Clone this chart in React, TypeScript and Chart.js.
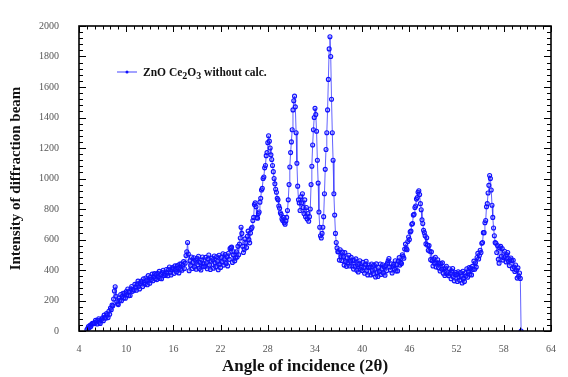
import React, { useEffect, useRef } from 'react';
import { Chart, registerables } from 'chart.js';

Chart.register(...registerables);

// Diffraction scan: first angle and angular step (degrees 2θ)
const angleStart = 5.0;
const angleStep = 0.1;

// Intensity, one value per 0.1° from 5.0° to 60.2°
const intensity: number[] = [
  8, 16, 30, 22, 38, 30, 44, 50, 48, 52, // 5.0-5.9
  50, 70, 60, 46, 70, 80, 58, 50, 70, 78, // 6.0
  86, 68, 104, 90, 84, 114, 106, 88, 130, 110, // 7.0
  150, 140, 170, 165, 210, 262, 290, 228, 190, 178, // 8.0
  173, 216, 202, 239, 198, 226, 248, 216, 247, 215, // 9.0
  258, 238, 275, 231, 259, 233, 276, 292, 260, 273, // 10.0
  267, 306, 288, 267, 309, 327, 291, 276, 312, 327, // 11.0
  321, 291, 342, 318, 306, 348, 333, 303, 363, 330, // 12.0
  313, 354, 338, 373, 330, 356, 376, 342, 371, 337, // 13.0
  378, 356, 391, 345, 371, 343, 384, 398, 364, 375, // 14.0
  365, 403, 384, 362, 403, 420, 383, 367, 402, 416, // 15.0
  409, 378, 427, 402, 388, 429, 412, 381, 439, 405, // 16.0
  440, 398, 432, 455, 410, 445, 495, 520, 580, 505, // 17.0
  395, 460, 430, 485, 410, 450, 480, 420, 465, 405, // 18.0
  475, 435, 490, 410, 450, 400, 465, 485, 425, 440, // 19.0
  423, 483, 448, 408, 473, 498, 433, 403, 458, 478, // 20.0
  467, 412, 492, 447, 422, 487, 457, 402, 497, 437, // 21.0
  417, 482, 452, 507, 432, 472, 502, 442, 487, 427, // 22.0
  510, 470, 540, 545, 550, 450, 500, 520, 460, 478, // 23.0
  520, 485, 555, 500, 570, 610, 680, 640, 555, 515, // 24.0
  535, 604, 578, 547, 621, 655, 599, 578, 642, 671, // 25.0
  680, 725, 745, 830, 840, 815, 745, 740, 770, 780, // 26.0
  845, 870, 925, 935, 1000, 1010, 1070, 1085, 1150, 1170, // 27.0
  1235, 1280, 1245, 1200, 1155, 1125, 1085, 1045, 1000, 965, // 28.0
  930, 910, 870, 860, 820, 805, 775, 765, 735, 725, // 29.0
  745, 710, 700, 722, 745, 790, 860, 960, 1075, 1170, // 30.0
  1240, 1320, 1450, 1510, 1540, 1470, 1300, 1100, 950, 860, // 31.0
  840, 790, 880, 840, 900, 810, 770, 860, 750, 810, // 32.0
  735, 770, 720, 750, 800, 960, 1080, 1220, 1320, 1400, // 33.0
  1460, 1420, 1310, 1120, 970, 780, 680, 625, 610, 640, // 34.0
  680, 750, 900, 1060, 1190, 1300, 1450, 1650, 1850, 1930, // 35.0
  1800, 1520, 1300, 1120, 900, 760, 640, 580, 545, 520, // 36.0
  519, 465, 533, 488, 462, 517, 486, 432, 514, 455, // 37.0
  424, 480, 450, 497, 426, 459, 483, 426, 464, 406, // 38.0
  462, 425, 473, 399, 434, 387, 444, 461, 405, 417, // 39.0
  397, 450, 417, 379, 437, 457, 397, 368, 417, 433, // 40.0
  419, 368, 439, 398, 375, 433, 405, 354, 440, 384, // 41.0
  357, 416, 389, 439, 371, 407, 434, 380, 421, 366, // 42.0
  430, 395, 445, 460, 475, 420, 400, 440, 380, 425, // 43.0
  437, 406, 461, 393, 435, 394, 458, 481, 432, 450, // 44.0
  442, 500, 490, 477, 538, 570, 540, 533, 587, 616, // 45.0
  600, 650, 655, 700, 705, 760, 765, 810, 820, 865, // 46.0
  875, 910, 920, 895, 835, 795, 730, 705, 660, 645, // 47.0
  625, 571, 611, 563, 530, 560, 523, 468, 519, 461, // 48.0
  426, 473, 445, 484, 420, 447, 467, 414, 446, 393, // 49.0
  442, 406, 447, 379, 408, 364, 413, 425, 374, 382, // 50.0
  363, 408, 378, 343, 393, 410, 356, 329, 371, 384, // 51.0
  370, 325, 389, 352, 332, 383, 359, 315, 392, 345, // 52.0
  324, 380, 360, 408, 352, 388, 416, 372, 412, 368, // 53.0
  424, 403, 458, 405, 448, 419, 482, 509, 472, 495, // 54.0
  530, 515, 575, 580, 645, 645, 710, 725, 815, 835, // 55.0
  905, 955, 1020, 1000, 925, 825, 745, 675, 625, 580, // 56.0
  575, 515, 560, 470, 445, 545, 555, 490, 540, 465, // 57.0
  480, 523, 490, 453, 500, 515, 458, 429, 468, 479, // 58.0
  462, 409, 464, 419, 390, 433, 400, 347, 414, 357, // 59.0
  380, 345, 0, // 60.0-60.2
];

const xTickValues = [4, 10, 16, 22, 28, 34, 40, 46, 52, 58, 64];
const yTickValues = [0, 200, 400, 600, 800, 1000, 1200, 1400, 1600, 1800, 2000];
const xMinorStep = 1;
const yMinorStep = 40;

const xTitle = 'Angle of incidence (2θ)';
const yTitle = 'Intensity of diffraction beam';
const legendParts: { text: string; sub?: boolean }[] = [
  { text: 'ZnO Ce' },
  { text: '2', sub: true },
  { text: 'O' },
  { text: '3', sub: true },
  { text: ' without calc.' },
];

const markerColor = '#1010ff';
const lineColor = 'rgba(60,60,255,0.8)';

const frameTicks = {
  id: 'frameTicks',
  afterDatasetsDraw(chart: any) {
    const { ctx, chartArea, scales } = chart;
    const { left, right, top, bottom } = chartArea;
    const x = scales.x;
    const y = scales.y;
    ctx.save();
    ctx.strokeStyle = '#000';
    ctx.lineWidth = 1;
    const xMin = xTickValues[0];
    const xMax = xTickValues[xTickValues.length - 1];
    for (let v = xMin; v <= xMax + 1e-9; v += xMinorStep) {
      const major = xTickValues.some((t) => Math.abs(t - v) < 1e-6);
      const len = major ? 6 : 3.5;
      const px = Math.round(x.getPixelForValue(v)) + 0.5;
      ctx.beginPath();
      ctx.moveTo(px, bottom);
      ctx.lineTo(px, bottom - len);
      ctx.moveTo(px, top);
      ctx.lineTo(px, top + len);
      ctx.stroke();
    }
    const yMin = yTickValues[0];
    const yMax = yTickValues[yTickValues.length - 1];
    for (let v = yMin; v <= yMax + 1e-9; v += yMinorStep) {
      const major = yTickValues.some((t) => Math.abs(t - v) < 1e-6);
      const len = major ? 7 : 4;
      const py = Math.round(y.getPixelForValue(v)) + 0.5;
      ctx.beginPath();
      ctx.moveTo(left, py);
      ctx.lineTo(left + len, py);
      ctx.moveTo(right, py);
      ctx.lineTo(right - len, py);
      ctx.stroke();
    }
    ctx.lineWidth = 1.6;
    ctx.strokeRect(left, top, right - left, bottom - top);
    ctx.restore();
  },
};

const innerLegend = {
  id: 'innerLegend',
  afterDraw(chart: any) {
    const { ctx, chartArea } = chart;
    const lx = chartArea.left + 38;
    const ly = chartArea.top + 46;
    ctx.save();
    ctx.strokeStyle = lineColor;
    ctx.lineWidth = 1.2;
    ctx.beginPath();
    ctx.moveTo(lx, ly);
    ctx.lineTo(lx + 20, ly);
    ctx.stroke();
    ctx.fillStyle = markerColor;
    ctx.beginPath();
    ctx.arc(lx + 10, ly, 1.5, 0, Math.PI * 2);
    ctx.fill();
    let tx = lx + 26;
    ctx.fillStyle = '#111';
    ctx.textBaseline = 'alphabetic';
    for (const part of legendParts) {
      ctx.font = part.sub ? 'bold 10px "Liberation Serif"' : 'bold 11.5px "Liberation Serif"';
      const baseY = ly + 4 + (part.sub ? 3 : 0);
      ctx.fillText(part.text, tx, baseY);
      tx += ctx.measureText(part.text).width;
    }
    ctx.restore();
  },
};

const xAxisTitle = {
  id: 'xAxisTitle',
  afterDraw(chart: any) {
    const { ctx, chartArea } = chart;
    ctx.save();
    ctx.fillStyle = '#111';
    ctx.font = 'bold 17px "Liberation Serif"';
    ctx.textAlign = 'center';
    ctx.textBaseline = 'middle';
    ctx.fillText(xTitle, (chartArea.left + chartArea.right) / 2 - 10, chartArea.bottom + 36);
    ctx.restore();
  },
};

export default function App() {
  const canvasRef = useRef<HTMLCanvasElement | null>(null);

  useEffect(() => {
    document.body.style.margin = '0';
    const canvas = canvasRef.current;
    if (!canvas) return;
    const points = intensity.map((v, i) => ({
      x: Math.round((angleStart + i * angleStep) * 100) / 100,
      y: v,
    }));
    const chart = new Chart(canvas, {
      type: 'line',
      data: {
        datasets: [
          {
            label: 'ZnO Ce2O3 without calc.',
            data: points,
            borderColor: lineColor,
            borderWidth: 1,
            pointStyle: 'circle',
            pointRadius: 2,
            pointBorderWidth: 1.1,
            pointBorderColor: markerColor,
            pointBackgroundColor: 'rgba(60,60,255,0.25)',
            tension: 0,
            fill: false,
          },
        ],
      },
      options: {
        animation: false,
        responsive: false,
        maintainAspectRatio: false,
        devicePixelRatio: 1,
        layout: { padding: { left: 0, top: 17, right: 11, bottom: 0 } },
        plugins: {
          legend: { display: false },
          tooltip: { enabled: false },
        },
        scales: {
          x: {
            type: 'linear',
            min: 4,
            max: 64,
            afterFit: (s: any) => {
              s.height = 46;
            },
            afterBuildTicks: (s: any) => {
              s.ticks = xTickValues.map((v) => ({ value: v }));
            },
            grid: { display: false, drawTicks: false },
            border: { display: false },
            ticks: {
              padding: 12,
              color: '#555',
              font: { family: '"Liberation Serif"', size: 10 },
              autoSkip: false,
              maxRotation: 0,
              callback: (v: any) => String(v),
            },
            title: { display: false, text: xTitle },
          },
          y: {
            type: 'linear',
            min: 0,
            max: 2000,
            afterFit: (s: any) => {
              s.width = 79;
            },
            afterBuildTicks: (s: any) => {
              s.ticks = yTickValues.map((v) => ({ value: v }));
            },
            grid: { display: false, drawTicks: false },
            border: { display: false },
            ticks: {
              padding: 20,
              color: '#555',
              font: { family: '"Liberation Serif"', size: 10 },
              autoSkip: false,
              callback: (v: any) => String(v),
            },
            title: {
              display: true,
              text: yTitle,
              color: '#111',
              font: { family: '"Liberation Serif"', size: 15, weight: 'bold', lineHeight: 1 },
              padding: { top: 9, bottom: 0 },
            },
          },
        },
      },
      plugins: [frameTicks, innerLegend, xAxisTitle],
    });
    return () => chart.destroy();
  }, []);

  return (
    <div style={{ position: 'absolute', left: 0, top: 0, width: 568, height: 377 }}>
      <canvas ref={canvasRef} width={568} height={377} style={{ width: 568, height: 377 }} />
    </div>
  );
}
